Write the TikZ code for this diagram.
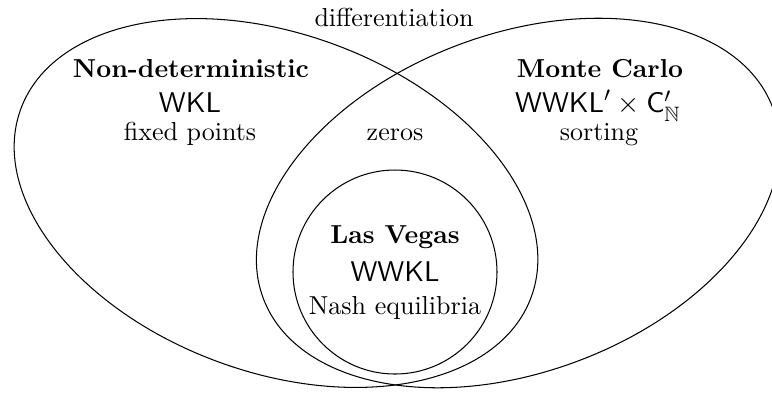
\documentclass[tikz,border=0pt]{standalone}
\usepackage{amsmath,amssymb}
\tikzset{
    region/.style={draw=black, line width=0.4pt},
    setname/.style={inner sep=0pt, anchor=base, font=\bfseries},
    setsym/.style={inner sep=0pt, anchor=base, font=\fontsize{10.95}{13.6}\selectfont},
    example/.style={inner sep=0pt, anchor=base},
}

\begin{document}
\begin{tikzpicture}[x=0.3846pt, y=-0.3846pt]
\useasboundingbox (0,0) rectangle (772,394);

% Class regions
\draw[region, rotate around={-20.25:(276,203)}] (276,203) ellipse (272 and 169);
\draw[region, rotate around={20.5:(518,203)}] (518,203) ellipse (272 and 169);
\draw[region] (395,272) circle (102);

% Outside both
\node[example] (diff) at (394,26) {differentiation};

% Non-deterministic
\node[setname] (nd-name) at (191,77) {Non-deterministic};
\node[setsym] (nd-sym) at (190,112.6) {$\mathsf{WKL}$};
\node[example] (nd-ex) at (190,140.5) {fixed points};

% Intersection
\node[example] (zeros) at (395,140.5) {zeros};

% Monte Carlo
\node[setname] (mc-name) at (600,77) {Monte Carlo};
\node[setsym] (mc-sym) at (598,112.6) {$\mathsf{WWKL}'\times\mathsf{C}_{\mathbb{N}}'$};
\node[example] (mc-ex) at (599,140.5) {sorting};

% Las Vegas
\node[setname] (lv-name) at (395,243) {Las Vegas};
\node[setsym] (lv-sym) at (395,281) {$\mathsf{WWKL}$};
\node[example] (lv-ex) at (395,314) {Nash equilibria};

\end{tikzpicture}
\end{document}
